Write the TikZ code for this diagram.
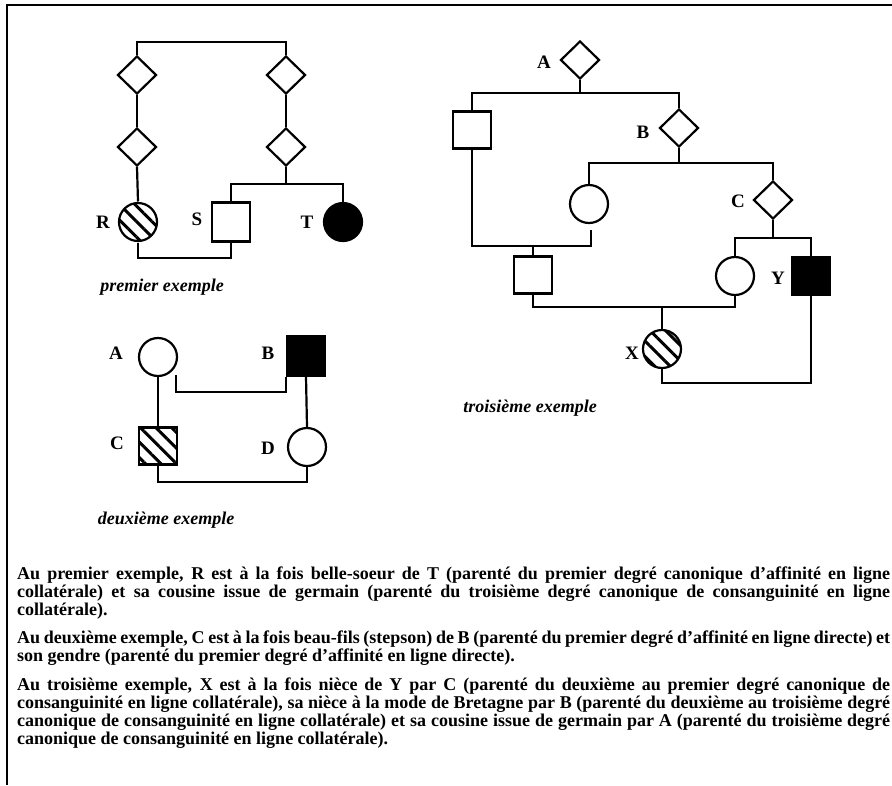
\documentclass[tikz,border=0pt]{standalone}
\usepackage{fontspec}
\setmainfont{Liberation Serif}
\usetikzlibrary{shapes.geometric,patterns.meta}
\tikzset{
  ln/.style={line width=2.2pt},
  dia/.style={diamond,draw,line width=2.2pt,minimum width=39pt,minimum height=38pt,inner sep=0pt},
  circ/.style={circle,draw,line width=2.2pt,minimum size=38pt,inner sep=0pt},
  sq/.style={rectangle,draw,line width=2.2pt,minimum width=38pt,minimum height=37pt,inner sep=0pt},
  filled/.style={fill=black},
  hatch/.style={pattern={Lines[angle=-45,distance=11pt,line width=3pt]}},
  lab/.style={font=\fontsize{19}{19}\selectfont\bfseries,inner sep=0pt},
  captext/.style={font=\fontsize{18}{18}\selectfont\bfseries\itshape,inner sep=0pt},
  txt/.style={anchor=base west,inner sep=0pt,font=\fontsize{18}{18}\selectfont\bfseries},
}
\newcommand{\jline}[1]{\makebox[873pt][s]{#1}}
\begin{document}
\begin{tikzpicture}[x=1pt,y=-1pt]
\useasboundingbox (0,0) rectangle (892,785);
% frame
\draw[line width=2pt] (7,785) -- (7,5) -- (892,5);

% ---------- premier exemple ----------
\node[dia] (d1) at (137,75) {};
\node[dia] (d2) at (137,147) {};
\node[dia] (d3) at (286,75) {};
\node[dia] (d4) at (286,147) {};
\node[circ,hatch] (R) at (138,222) {};
\node[sq,minimum height=39pt] (S) at (231,222) {};
\node[circ,filled] (T) at (343,222) {};
\node[lab] (lR) at (103,222) {R};
\node[lab] (lS) at (197,219) {S};
\node[lab] (lT) at (307,222) {T};
\coordinate (c1) at (210,42);
\coordinate (c2) at (286,184);
\coordinate (c3) at (185,258);
\draw[ln] (d1.north) |- (c1) -| (d3.north);
\draw[ln] (d1.south) -- (d2.north);
\draw[ln] (d2.south) -- (R.north);
\draw[ln] (d3.south) -- (d4.north);
\draw[ln] (d4.south) -- (c2);
\draw[ln] (S.north) |- (c2) -| (T.north);
\draw[ln] (R.south) |- (c3) -| (S.south);
\node[captext] (cap1) at (162,287) {premier exemple};

% ---------- deuxieme exemple ----------
\node[circ] (A2) at (158,357) {};
\node[sq,filled,minimum height=39pt] (B2) at (306,356) {};
\node[sq,hatch] (C2) at (158,446) {};
\node[circ] (D2) at (307,447) {};
\node[lab] (lA2) at (116,353) {A};
\node[lab] (lB2) at (268,353) {B};
\node[lab] (lC2) at (117,443) {C};
\node[lab] (lD2) at (268,448) {D};
\coordinate (e1) at (176,375);
\coordinate (e2) at (230,392);
\coordinate (e3) at (230,482);
\draw[ln] (A2.south) -- (C2.north);
\draw[ln] (B2.south) -- (D2.north);
\draw[ln] (e1) |- (e2) -| (B2.south west);
\draw[ln] (C2.south) |- (e3) -| (D2.south);
\node[captext] (cap2) at (166,520) {deuxième exemple};

% ---------- troisieme exemple ----------
\node[dia] (A3) at (580,60) {};
\node[sq] (Q1) at (472,130) {};
\node[dia] (B3) at (679,128) {};
\node[circ] (O1) at (589,204) {};
\node[dia] (C3) at (773,200) {};
\node[sq] (Q2) at (533,275) {};
\node[circ] (O2) at (735,276) {};
\node[sq,filled] (Y3) at (811,276) {};
\node[circ,hatch] (X3) at (662,349) {};
\node[lab] (lA3) at (544,62) {A};
\node[lab] (lB3) at (643,132) {B};
\node[lab] (lC3) at (738,201) {C};
\node[lab] (lY3) at (778,278) {Y};
\node[lab] (lX3) at (632,353) {X};
\coordinate (j1) at (580,93);
\coordinate (j2) at (679,163);
\coordinate (j3) at (773,238);
\coordinate (j4) at (533,246);
\coordinate (g1) at (591,230);
\coordinate (j5) at (662,307);
\coordinate (j6) at (735,383);
\draw[ln] (A3.south) -- (j1);
\draw[ln] (Q1.north) |- (j1) -| (B3.north);
\draw[ln] (B3.south) -- (j2);
\draw[ln] (O1.north) |- (j2) -| (C3.north);
\draw[ln] (C3.south) -- (j3);
\draw[ln] (O2.north) |- (j3) -| (Y3.north);
\draw[ln] (Q1.south) |- (j4) -| (g1);
\draw[ln] (j4) -- (Q2.north);
\draw[ln] (Q2.south) |- (j5) -| (O2.south);
\draw[ln] (j5) -- (X3.north);
\draw[ln] (X3.south) |- (j6) -| (Y3.south);
\node[captext] (cap3) at (530,408) {troisième exemple};

% ---------- texte ----------
\node[txt] (p1a) at (17,579) {\jline{Au premier exemple, R est à la fois belle-soeur de T (parenté du premier degré canonique d'affinité en ligne}};
\node[txt] (p1b) at (17,597) {\jline{collatérale) et sa cousine issue de germain (parenté du troisième degré canonique de consanguinité en ligne}};
\node[txt] (p1c) at (17,615) {collatérale).};
\node[txt] (p2a) at (17,643) {\jline{Au deuxième exemple, C est à la fois beau-fils (stepson) de B (parenté du premier degré d'affinité en ligne directe) et}};
\node[txt] (p2b) at (17,661) {son gendre (parenté du premier degré d'affinité en ligne directe).};
\node[txt] (p3a) at (17,690) {\jline{Au troisième exemple, X est à la fois nièce de Y par C (parenté du deuxième au premier degré canonique de}};
\node[txt] (p3b) at (17,708) {\jline{consanguinité en ligne collatérale), sa nièce à la mode de Bretagne par B (parenté du deuxième au troisième degré}};
\node[txt] (p3c) at (17,726) {\jline{canonique de consanguinité en ligne collatérale) et sa cousine issue de germain par A (parenté du troisième degré}};
\node[txt] (p3d) at (17,744) {canonique de consanguinité en ligne collatérale).};
\end{tikzpicture}
\end{document}
